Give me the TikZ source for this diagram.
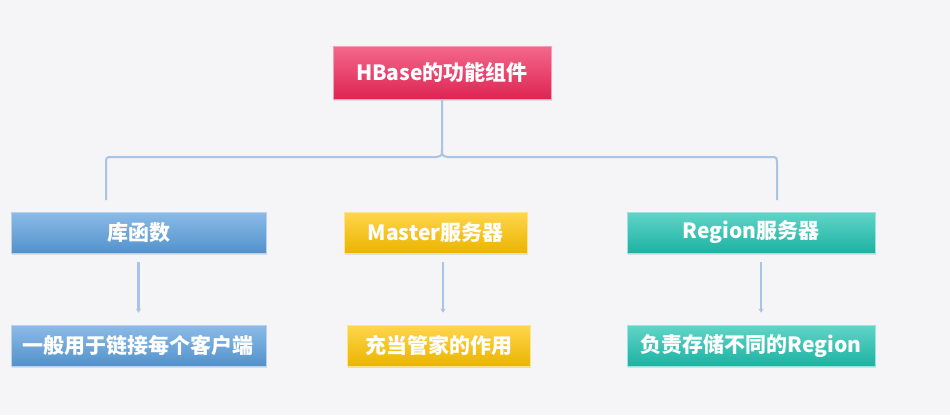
\documentclass[tikz,border=0pt]{standalone}
\usepackage{fontspec}
\setmainfont{Noto Sans CJK SC}
\usetikzlibrary{arrows.meta,shadows}

\definecolor{bgc}{HTML}{F5F4F7}
\definecolor{linec}{HTML}{A9C4E4}
\definecolor{redc}{HTML}{F0285A}
\definecolor{bluec}{HTML}{5A9EDD}
\definecolor{yellowc}{HTML}{FFC400}
\definecolor{tealc}{HTML}{1EC2B0}

\begin{document}
\begin{tikzpicture}[x=1pt,y=-1pt,
    box/.style={minimum height=41pt, inner sep=0pt, text=white,
        font=\fontsize{21}{23}\selectfont\bfseries,
        drop shadow={shadow xshift=1pt, shadow yshift=-2pt, opacity=0.2},
        draw=white!55!#1, line width=0.6pt,
        top color=white!30!#1, middle color=#1, bottom color=black!8!#1},
    link/.style={draw=linec, line width=2.4pt},
    arr/.style={link, -{Stealth[length=4pt,width=5pt]}}]
    \useasboundingbox[fill=bgc] (0,0) rectangle (950,415);

    % Livello superiore
    \node (top) at (442,72.5) [box=redc, minimum width=218pt, minimum height=53pt] {HBase的功能组件};

    % Livello centrale
    \node (lib) at (138.5,232.5) [box=bluec, minimum width=255pt] {库函数};
    \node (master) at (435.5,232.5) [box=yellowc, minimum width=183pt] {Master服务器};
    \node (region) at (751,232.5) [box=tealc, minimum width=248pt] {Region服务器};

    % Livello inferiore
    \node (libd) at (138.5,345.5) [box=bluec, minimum width=255pt] {一般用于链接每个客户端};
    \node (masterd) at (438.5,345.5) [box=yellowc, minimum width=183pt] {充当管家的作用};
    \node (regiond) at (751,345.5) [box=tealc, minimum width=248pt] {负责存储不同的Region};

    % Parentesi
    \coordinate (bl) at (106,200);
    \coordinate (br) at (777,200);
    \draw[link, line width=2pt] (top.south) -- (442,148) .. controls (442,156) .. (436,157)
        -- (112,157) .. controls (106,157) .. (106,165) -- (bl);
    \draw[link, line width=2pt] (442,148) .. controls (442,156) .. (448,157)
        -- (771,157) .. controls (777,157) .. (777,165) -- (br);

    % Collegamenti
    \draw[arr] ([yshift=-9pt]lib.south) -- ([yshift=12pt]libd.north);
    \draw[arr] ([xshift=7.5pt,yshift=-9pt]master.south) -- ([xshift=4.5pt,yshift=12pt]masterd.north);
    \draw[arr] ([xshift=10pt,yshift=-9pt]region.south) -- ([xshift=10pt,yshift=12pt]regiond.north);
\end{tikzpicture}
\end{document}
